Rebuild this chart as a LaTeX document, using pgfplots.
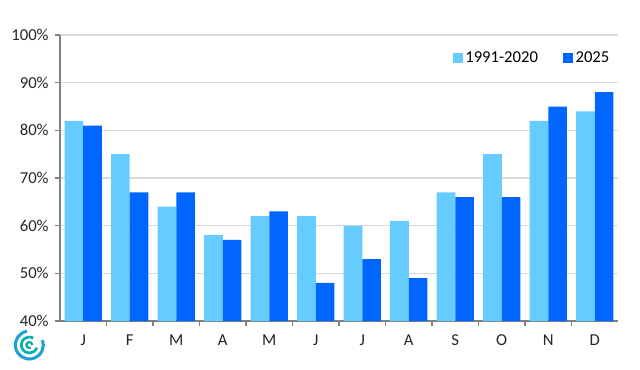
\documentclass[border=0pt]{standalone}
\usepackage{pgfplots}
\pgfplotsset{compat=1.18}
\usepackage{fontspec}
\setmainfont{Carlito}
\definecolor{lightb}{HTML}{66CCFF}
\definecolor{darkb}{HTML}{0066FF}
\definecolor{gridc}{HTML}{D9D9D9}
\definecolor{axc}{HTML}{808080}
\begin{document}
\begin{tikzpicture}
\useasboundingbox (0pt,0pt) rectangle (480pt,276.75pt);
% logo
\begin{scope}[shift={(22pt,18pt)}]
\draw[color=teal!70!cyan, line width=1.6pt] (0,0) ++(0:2.2pt) arc[start angle=0,end angle=300,radius=2.2pt];
\draw[color=teal!60!cyan, line width=2pt] (0,0) ++(60:6pt) arc[start angle=60,end angle=340,radius=6pt];
\draw[color=cyan!70!teal, line width=2.3pt] (0,0) ++(100:10.5pt) arc[start angle=100,end angle=380,radius=10.5pt];
\end{scope}
\begin{axis}[
  at={(45pt,36pt)}, anchor=south west,
  scale only axis, width=418.5pt, height=214.5pt,
  ybar=0pt, bar width=13.9pt,
  xmin=-0.5, xmax=11.5, ymin=40, ymax=100,
  xtick={0,...,11},
  xticklabels={J,F,M,A,M,J,J,A,S,O,N,D},
  major x tick style={draw=none},
  minor xtick={0.5,1.5,...,10.5},
  ytick={40,50,...,100},
  yticklabel={\pgfmathprintnumber{\tick}\%},
  /pgf/number format/assume math mode=true,
  axis x line*=bottom, axis y line*=left,
  axis line style={axc, line width=0.8pt},
  tick style={axc, line width=0.8pt},
  tick align=outside,
  major tick length=4pt, minor tick length=4pt,
  ymajorgrids, grid style={gridc, line width=0.8pt},
  tick label style={font=\fontsize{12.5}{14}\selectfont, text=black!85},
  xticklabel style={yshift=-3pt},
  yticklabel style={xshift=-1pt},
  legend style={draw=none, fill=none, at={(0.997,0.92)}, anchor=east,
    font=\fontsize{12.5}{14}\selectfont, legend columns=2,
    /tikz/every even column/.append style={column sep=17pt}},
  legend image code/.code={\fill (0pt,-3.6pt) rectangle (7.2pt,3.6pt);},
]
\addplot[fill=lightb, draw=none] coordinates {(0,82) (1,75) (2,64) (3,58) (4,62) (5,62) (6,60) (7,61) (8,67) (9,75) (10,82) (11,84)};
\addplot[fill=darkb, draw=none] coordinates {(0,81) (1,67) (2,67) (3,57) (4,63) (5,48) (6,53) (7,49) (8,66) (9,66) (10,85) (11,88)};
\legend{1991-2020,2025}
\end{axis}
\end{tikzpicture}
\end{document}
